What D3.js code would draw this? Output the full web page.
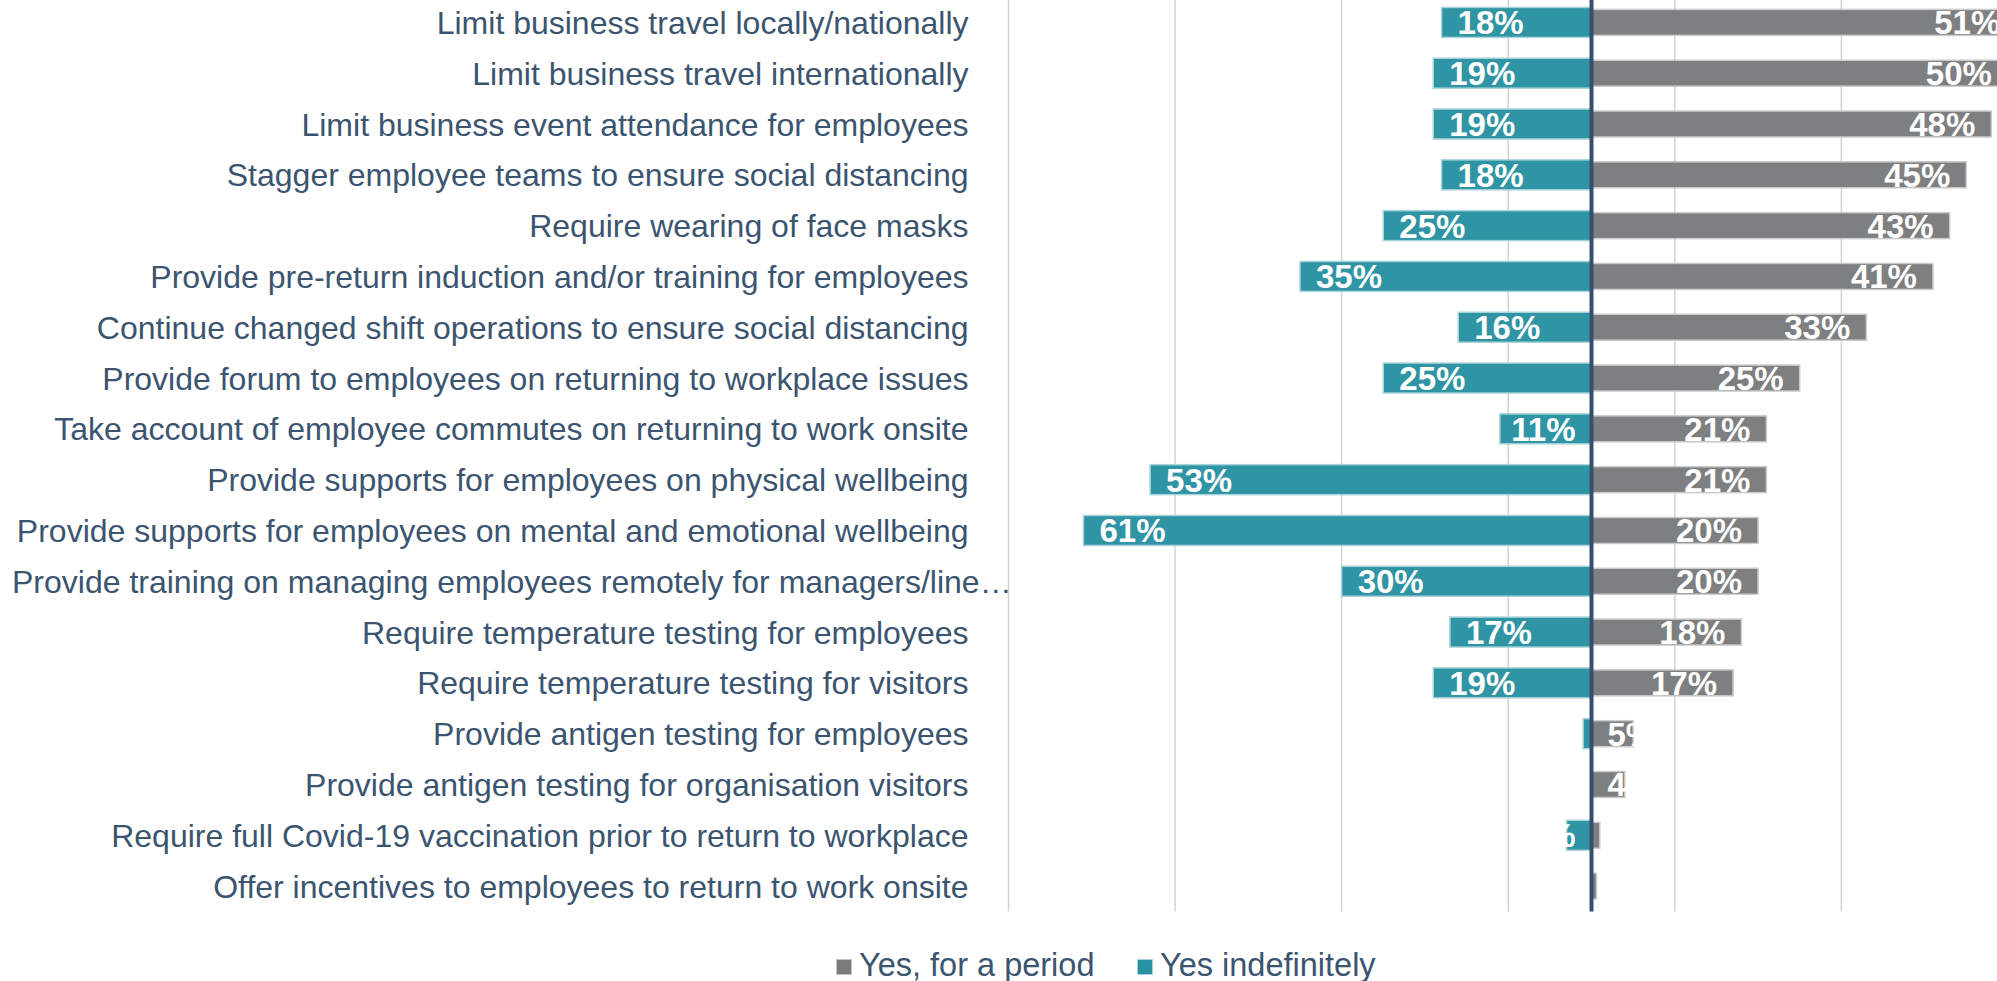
<!DOCTYPE html>
<html>
<head>
<meta charset="utf-8">
<script src="https://cdnjs.cloudflare.com/ajax/libs/d3/7.8.5/d3.min.js"></script>
<style>
    body { margin: 0; background: #fff; overflow: hidden; }
    text { font-family: "Liberation Sans", Arial, sans-serif; }
</style>
</head>
<body>
<div id="chart"></div>
<script>
// data
var categories = [
    "Limit business travel locally/nationally",
    "Limit business travel internationally",
    "Limit business event attendance for employees",
    "Stagger employee teams to ensure social distancing",
    "Require wearing of face masks",
    "Provide pre-return induction and/or training for employees",
    "Continue changed shift operations to ensure social distancing",
    "Provide forum to employees on returning to workplace issues",
    "Take account of employee commutes on returning to work onsite",
    "Provide supports for employees on physical wellbeing",
    "Provide supports for employees on mental and emotional wellbeing",
    "Provide training on managing employees remotely for managers/line\u2026",
    "Require temperature testing for employees",
    "Require temperature testing for visitors",
    "Provide antigen testing for employees",
    "Provide antigen testing for organisation visitors",
    "Require full Covid-19 vaccination prior to return to workplace",
    "Offer incentives to employees to return to work onsite"
];
var forPeriod = [51, 50, 48, 45, 43, 41, 33, 25, 21, 21, 20, 20, 18, 17, 5, 4, 1, 0.6];
var indefinitely = [18, 19, 19, 18, 25, 35, 16, 25, 11, 53, 61, 30, 17, 19, 1, 0, 3, 0];
var gridTicks = [-70, -50, -30, -10, 10, 30, 50, 70];
var seriesNames = ["Yes, for a period", "Yes indefinitely"];

var width = 1997;
var height = 981;
var textColor = "#3b5470";
var grey = "#7a7b7d";
var teal = "#2891a0";

var rows = categories.map(function (c, i) {
    return { cat: c, period: forPeriod[i], indef: indefinitely[i] };
});

var svg = d3.select('#chart')
    .append('svg')
    .attr('width', width)
    .attr('height', height);

var x = d3.scaleLinear()
    .domain([-70, 70])
    .range([1008.5, 2174.5]);

var y = d3.scaleBand()
    .domain(categories)
    .range([-3, 911.5])
    .paddingInner(0.41)
    .paddingOuter(0.205);

var plotTop = 0, plotBottom = 911.5;

//gridlines
svg.append('g')
    .selectAll('line')
    .data(gridTicks)
    .enter()
    .append('line')
    .attr('x1', d => x(d))
    .attr('x2', d => x(d))
    .attr('y1', plotTop)
    .attr('y2', plotBottom)
    .attr('stroke', '#d0d3d7')
    .attr('stroke-width', 1.5);

//category labels (the long one is cut with an ellipsis and starts at the left edge)
svg.append('g')
    .selectAll('text')
    .data(categories)
    .enter()
    .append('text')
    .attr('x', (d, i) => i == 11 ? 12 : 968.5)
    .attr('y', d => y(d) + y.bandwidth() / 2)
    .attr('dy', '0.36em')
    .attr('text-anchor', (d, i) => i == 11 ? 'start' : 'end')
    .attr('fill', textColor)
    .style('font-size', '32px')
    .text(d => d);

var barH = y.bandwidth();
var greyH = barH - 4;

//indefinitely bars (to the left)
svg.append('g')
    .selectAll('rect')
    .data(rows)
    .enter()
    .append('rect')
    .attr('x', d => x(-d.indef))
    .attr('y', d => y(d.cat))
    .attr('width', d => x(0) - x(-d.indef))
    .attr('height', barH)
    .attr('fill', teal)
    .attr('fill-opacity', 0.97)
    .attr('stroke', d => d.indef > 0 ? '#a9d3da' : 'none')
    .attr('stroke-width', 1.5);

//for a period bars (to the right)
svg.append('g')
    .selectAll('rect')
    .data(rows)
    .enter()
    .append('rect')
    .attr('x', x(0))
    .attr('y', d => y(d.cat) + 2)
    .attr('width', d => x(d.period) - x(0))
    .attr('height', greyH)
    .attr('fill', grey)
    .attr('fill-opacity', 0.97)
    .attr('stroke', '#cbcbcb')
    .attr('stroke-width', 1.5);

//zero axis
svg.append('line')
    .attr('x1', x(0))
    .attr('x2', x(0))
    .attr('y1', plotTop)
    .attr('y2', plotBottom)
    .attr('stroke', '#34506e')
    .attr('stroke-width', 4);

//data labels, inside end, pushed to the base when the bar is too short
var pad = 16;
var fmt = v => Math.round(v) + '%';

svg.append('g')
    .selectAll('text')
    .data(rows)
    .enter()
    .append('text')
    .attr('y', d => y(d.cat) + barH / 2)
    .attr('dy', '0.36em')
    .attr('fill', '#fff')
    .style('font-size', '33px')
    .style('font-weight', 'bold')
    .text(d => fmt(d.indef))
    .attr('x', function (d) {
        var w = this.getComputedTextLength();
        return Math.min(x(-d.indef) + pad, x(0) - pad - w);
    });

svg.append('g')
    .selectAll('text')
    .data(rows)
    .enter()
    .append('text')
    .attr('y', d => y(d.cat) + barH / 2)
    .attr('dy', '0.36em')
    .attr('fill', '#fff')
    .style('font-size', '33px')
    .style('font-weight', 'bold')
    .text(d => fmt(d.period))
    .attr('x', function (d) {
        var w = this.getComputedTextLength();
        return Math.max(x(0) + pad, x(d.period) - pad - w);
    });

//legend
var legend = svg.append('g');
var legendX = [836.5, 1137.5];
var legendColors = [grey, teal];
var legendStroke = ['#c4c4c4', '#a9d3da'];
seriesNames.forEach(function (name, i) {
    legend.append('rect')
        .attr('x', legendX[i])
        .attr('y', 959.5)
        .attr('width', 15)
        .attr('height', 15)
        .attr('fill', legendColors[i])
        .attr('stroke', legendStroke[i])
        .attr('stroke-width', 1);
    legend.append('text')
        .attr('x', legendX[i] + 22.5)
        .attr('y', 976)
        .attr('fill', textColor)
        .style('font-size', '32.5px')
        .text(name);
});
</script>
</body>
</html>
